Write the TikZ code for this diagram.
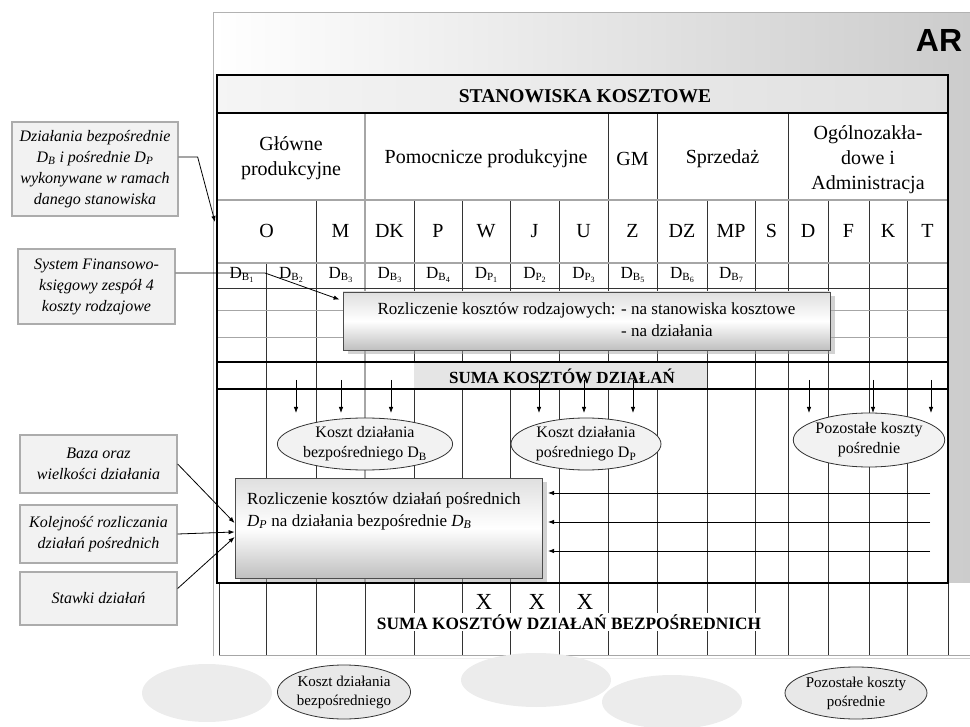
\documentclass[tikz,border=0pt]{standalone}
\usepackage{fontspec}
\setmainfont{Liberation Serif}
\newfontfamily\arfont{Liberation Sans}
\usetikzlibrary{arrows.meta,shapes.geometric,shadows,calc}
\newcommand{\Dbs}[2]{D\raisebox{-0.3ex}{\fontsize{11}{11}\selectfont #1\raisebox{-0.3ex}{\fontsize{8}{8}\selectfont #2}}}
\begin{document}
\begin{tikzpicture}[x=1pt,y=-1pt,
  gline/.style={black!80, line width=0.7pt},
  tline/.style={black, line width=2pt},
  mline/.style={gray!70, line width=1.3pt},
  cellt/.style={font=\fontsize{20}{25}\selectfont, align=center, inner sep=0pt},
  dxt/.style={font=\fontsize{17}{17}\selectfont, inner sep=0pt},
  lbox/.style={draw=gray!65, line width=1.3pt, fill=gray!10, align=center,
    font=\fontsize{16}{21}\selectfont\itshape, inner sep=2pt},
  ell/.style={ellipse, draw=black!80, fill=gray!10, line width=0.8pt, inner sep=0pt,
    align=center, font=\fontsize{16}{20}\selectfont},
  blob/.style={ellipse, fill=gray!15, draw=none},
  rbox/.style={draw=black!70, line width=0.8pt, top color=gray!25, bottom color=gray!50,
    middle color=white, drop shadow={shadow xshift=5pt, shadow yshift=-4pt, fill=gray!70}},
  arr/.style={-{Latex[length=6pt,width=4.5pt]}, line width=0.8pt, black}
]
\useasboundingbox (0,0) rectangle (970,727);

% panel
\shade[left color=white, right color=gray!40] (213,13) rectangle (970,658);
\fill[white] (213,583) rectangle (970,658);
\draw[gray!60, line width=1pt] (213,656) -- (213,13) -- (970,13);
\node[font=\arfont\bfseries\fontsize{32}{32}\selectfont, inner sep=0pt] (ar) at (939,40) {AR};

% table background
\fill[white] (217,75) rectangle (948,583);
\shade[left color=gray!8, right color=gray!25] (217,75) rectangle (948,113);

% vertical lines
\foreach \x in {316,414,462,510,559,707,755,828,869,907} \draw[gline] (\x,200) -- (\x,583);
\foreach \x in {608,657,788} \draw[gline, line width=1pt] (\x,113) -- (\x,583);
\draw[mline] (365,113) -- (365,583);
\draw[gline] (266,263) -- (266,583);
\foreach \x in {219,266,316,365,414,462,510,559,608,657,707,755,788,828,869,907,948}
  \draw[gline] (\x,583) -- (\x,655);
\draw[gray!70, line width=0.8pt] (219,655) -- (970,655);

% horizontal lines
\draw[mline] (217,200) -- (948,200);
\draw[mline] (217,263) -- (948,263);
\draw[gline] (217,288) -- (948,288);
\draw[gline, gray!70] (217,310) -- (948,310);
\draw[gline, gray!70] (217,337) -- (948,337);
\draw[tline] (217,113) -- (948,113);
\draw[tline] (217,362) -- (948,362);
\draw[tline] (217,389) -- (948,389);
\fill[gray!20] (414,363.2) rectangle (707,387.8);
\node[font=\bfseries\fontsize{17}{17}\selectfont, inner sep=0pt] (suma1) at (562,376) {SUMA KOSZTÓW DZIAŁAŃ};
\draw[tline] (217,75) rectangle (948,583);

% header texts
\node[font=\bfseries\fontsize{19.5}{19.5}\selectfont, inner sep=0pt] (hdr) at (585,96) {STANOWISKA KOSZTOWE};
\node[cellt] (g1) at (291,158) {Główne\\produkcyjne};
\node[cellt] (g2) at (486,159) {Pomocnicze produkcyjne};
\node[cellt] (g3) at (632.5,159) {GM};
\node[cellt] (g4) at (722.5,159) {Sprzedaż};
\node[cellt] (g5) at (868,160) {Ogólnozakła-\\dowe i\\Administracja};

% column letters
\node[cellt] (cO) at (266.5,231) {O};
\node[cellt] (cM) at (340.5,231) {M};
\node[cellt] (cDK) at (389.5,231) {DK};
\node[cellt] (cP) at (438,231) {P};
\node[cellt] (cW) at (486,231) {W};
\node[cellt] (cJ) at (534.5,231) {J};
\node[cellt] (cU) at (583.5,231) {U};
\node[cellt] (cZ) at (632.5,231) {Z};
\node[cellt] (cDZ) at (682,231) {DZ};
\node[cellt] (cMP) at (731,231) {MP};
\node[cellt] (cS) at (771.5,231) {S};
\node[cellt] (cD) at (808,231) {D};
\node[cellt] (cF) at (848.5,231) {F};
\node[cellt] (cK) at (888,231) {K};
\node[cellt] (cT) at (927.5,231) {T};

% D row
\node[dxt] (d1) at (241.5,275) {\Dbs{B}{1}};
\node[dxt] (d2) at (291,275) {\Dbs{B}{2}};
\node[dxt] (d3) at (340.5,275) {\Dbs{B}{3}};
\node[dxt] (d4) at (389.5,275) {\Dbs{B}{3}};
\node[dxt] (d5) at (438,275) {\Dbs{B}{4}};
\node[dxt] (d6) at (486,275) {\Dbs{P}{1}};
\node[dxt] (d7) at (534.5,275) {\Dbs{P}{2}};
\node[dxt] (d8) at (583.5,275) {\Dbs{P}{3}};
\node[dxt] (d9) at (632.5,275) {\Dbs{B}{5}};
\node[dxt] (d10) at (682,275) {\Dbs{B}{6}};
\node[dxt] (d11) at (731,275) {\Dbs{B}{7}};

% allocation box 1
\node[rbox, minimum width=487pt, minimum height=58pt, font=\fontsize{17}{22}\selectfont] (rk1) at (586.5,321)
  {\begin{tabular}{@{}l@{ }l@{}}Rozliczenie kosztów rodzajowych: & - na stanowiska kosztowe\\ & - na działania\end{tabular}};

% arrows down in lower area
\foreach \x in {296,341,391,539,584,633,809,873,931} \draw[arr] (\x,380) -- (\x,413);

% ellipses in table
\node[ell, minimum width=150pt, minimum height=52pt] (e1) at (365,444) {Koszt działania\\bezpośredniego D\textsubscript{B}};
\node[ell, minimum width=150pt, minimum height=52pt] (e2) at (586,444) {Koszt działania\\pośredniego D\textsubscript{P}};
\node[ell, minimum width=148pt, minimum height=54pt] (e3) at (869,440) {Pozostałe koszty\\pośrednie};

% allocation box 2
\node[rbox, minimum width=307pt, minimum height=100pt] (rk2) at (388.5,528) {};
\node[anchor=north west, align=left, inner sep=0pt, font=\fontsize{17}{22}\selectfont] (rk2t) at (247,492)
  {Rozliczenie kosztów działań pośrednich\\\textit{D\textsubscript{P}} na działania bezpośrednie \textit{D\textsubscript{B}}};
\foreach \y in {493,522,551} \draw[arr] (930,\y) -- (548,\y);

% below table
\node[font=\fontsize{23}{23}\selectfont, inner sep=0pt] (x1) at (484,602) {X};
\node[font=\fontsize{23}{23}\selectfont, inner sep=0pt] (x2) at (537,602) {X};
\node[font=\fontsize{23}{23}\selectfont, inner sep=0pt] (x3) at (585,602) {X};
\node[font=\bfseries\fontsize{17.3}{17.3}\selectfont, fill=white, inner sep=1pt] (suma2) at (569,622) {SUMA KOSZTÓW DZIAŁAŃ BEZPOŚREDNICH};

% bottom ellipses
\node[blob, minimum width=130pt, minimum height=58pt] (b1) at (207,693) {};
\node[blob, minimum width=150pt, minimum height=54pt] (b2) at (536,680) {};
\node[blob, minimum width=140pt, minimum height=54pt] (b3) at (672,702) {};
\node[ell, fill=gray!18, minimum width=124pt, minimum height=54pt, font=\fontsize{15}{19}\selectfont] (e4) at (344,692) {Koszt działania\\bezpośredniego};
\node[ell, fill=gray!18, minimum width=100pt, minimum height=52pt, font=\fontsize{15}{19}\selectfont] (e5) at (856,693) {Pozostałe koszty\\pośrednie};

% left boxes
\node[lbox, minimum width=166pt, minimum height=94pt] (lb1) at (95,169)
  {Działania bezpośrednie\\D\textsubscript{B} i pośrednie D\textsubscript{P}\\wykonywane w ramach\\danego stanowiska};
\node[lbox, minimum width=157pt, minimum height=75pt] (lb2) at (96.5,286.5)
  {System Finansowo-\\księgowy zespół 4\\koszty rodzajowe};
\node[lbox, minimum width=157pt, minimum height=58pt] (lb3) at (98.5,464)
  {Baza oraz\\wielkości działania};
\node[lbox, minimum width=157pt, minimum height=58pt] (lb4) at (98.5,534)
  {Kolejność rozliczania\\działań pośrednich};
\node[lbox, minimum width=157pt, minimum height=53pt] (lb5) at (98.5,598.5)
  {Stawki działań};

% connectors
\coordinate (t1) at (215,222);
\draw[arr] ([yshift=12pt]lb1.east) -- ++(19,0) -- (t1);
\coordinate (k2) at (265,273);
\draw[arr] ([yshift=13.5pt]lb2.east) -- (k2) -- ([xshift=-3pt,yshift=-8pt]rk1.north west);
\draw[arr] (lb3.east) -- ([yshift=5pt]rk2.west);
\draw[arr] (lb4.east) -- ([yshift=-4pt]rk2.west);
\draw[arr] ([yshift=10pt]lb5.east) -- ([yshift=-9pt]rk2.west);
\end{tikzpicture}
\end{document}
